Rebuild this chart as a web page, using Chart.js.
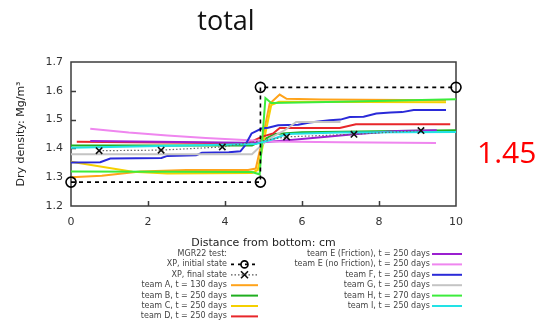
<!DOCTYPE html>
<html>
<head>
<meta charset="utf-8">
<script src="https://cdn.jsdelivr.net/npm/chart.js@4.4.1/dist/chart.umd.min.js"></script>
<style>
    html, body { margin: 0; padding: 0; background: #fff; }
    #wrap { position: relative; width: 553px; height: 325px; }
</style>
</head>
<body>
<div id="wrap"><canvas id="chart" width="553" height="325"></canvas></div>
<script>
// Dry density profiles, MGR22 test
// x = distance from bottom (cm), y = dry density (Mg/m3)
const xTicks = [0, 2, 4, 6, 8, 10];
const yTicks = [1.2, 1.3, 1.4, 1.5, 1.6, 1.7];

const xpInitX = [0, 4.92, 4.92, 10];
const xpInitY = [1.283, 1.283, 1.612, 1.612];

const xpFinalX = [0.73, 2.34, 3.93, 5.6, 7.35, 9.09];
const xpFinalY = [1.392, 1.394, 1.405, 1.440, 1.449, 1.462];

const teamAX = [0, 0.8, 1.8, 3.0, 4.6, 4.8, 5.0, 5.16, 5.42, 5.6, 6.5, 9.74];
const teamAY = [1.300, 1.305, 1.320, 1.325, 1.325, 1.330, 1.450, 1.555, 1.587, 1.572, 1.570, 1.567];

const teamBX = [0, 4.7, 5.0, 5.3, 6.0, 10];
const teamBY = [1.410, 1.410, 1.430, 1.450, 1.456, 1.463];

const teamCX = [0, 1.6, 2.5, 4.7, 4.85, 5.2, 5.4, 9.74];
const teamCY = [1.354, 1.319, 1.313, 1.315, 1.325, 1.550, 1.562, 1.560];

const teamDX = [0.15, 4.6, 4.95, 5.25, 5.42, 6.98, 7.4, 9.85];
const teamDY = [1.423, 1.418, 1.440, 1.452, 1.471, 1.471, 1.484, 1.484];

const teamEfX = [0.5, 4.5, 5.0, 5.42, 7.28, 8.45, 9.5];
const teamEfY = [1.426, 1.420, 1.422, 1.426, 1.448, 1.460, 1.463];

const teamEnX = [0.5, 1.5, 2.5, 3.5, 4.5, 5.2, 7.0, 9.48];
const teamEnY = [1.468, 1.455, 1.445, 1.436, 1.429, 1.424, 1.421, 1.419];

const teamFX = [0, 0.76, 1.02, 2.35, 2.5, 3.25, 3.4, 4.1, 4.4, 4.52, 4.69, 4.95, 5.12, 5.38, 5.9, 6.2, 6.72, 7.0, 7.24, 7.6, 7.93, 8.3, 8.6, 8.9, 9.74];
const teamFY = [1.351, 1.352, 1.365, 1.367, 1.374, 1.376, 1.385, 1.387, 1.390, 1.410, 1.452, 1.469, 1.472, 1.480, 1.482, 1.490, 1.498, 1.500, 1.509, 1.510, 1.521, 1.525, 1.526, 1.533, 1.533];

const teamGX = [0, 4.7, 4.9, 5.16, 5.55, 5.85, 7.0];
const teamGY = [1.380, 1.380, 1.405, 1.435, 1.463, 1.492, 1.492];

const teamHX = [0, 4.7, 4.9, 5.05, 5.2, 7.0, 10];
const teamHY = [1.320, 1.318, 1.310, 1.575, 1.558, 1.562, 1.571];

const teamIX = [0, 3.0, 4.8, 5.2, 5.6, 7.0, 10];
const teamIY = [1.402, 1.410, 1.415, 1.430, 1.450, 1.455, 1.457];

function pts(xs, ys) {
    return xs.map((x, i) => ({ x: x, y: ys[i] }));
}

const series = [
    { label: 'XP, initial state', xs: xpInitX, ys: xpInitY, color: '#000000', col: 0, kind: 'init' },
    { label: 'XP, final state', xs: xpFinalX, ys: xpFinalY, color: '#000000', col: 0, kind: 'final' },
    { label: 'team A, t = 130 days', xs: teamAX, ys: teamAY, color: '#ffa31a', col: 0 },
    { label: 'team B, t = 250 days', xs: teamBX, ys: teamBY, color: '#1fae1f', col: 0 },
    { label: 'team C, t = 250 days', xs: teamCX, ys: teamCY, color: '#f5d000', col: 0 },
    { label: 'team D, t = 250 days', xs: teamDX, ys: teamDY, color: '#e8262a', col: 0 },
    { label: 'team E (Friction), t = 250 days', xs: teamEfX, ys: teamEfY, color: '#9a1fd0', col: 1 },
    { label: 'team E (no Friction), t = 250 days', xs: teamEnX, ys: teamEnY, color: '#ef86ef', col: 1 },
    { label: 'team F, t = 250 days', xs: teamFX, ys: teamFY, color: '#2a2ad8', col: 1 },
    { label: 'team G, t = 250 days', xs: teamGX, ys: teamGY, color: '#c4c4c4', col: 1 },
    { label: 'team H, t = 270 days', xs: teamHX, ys: teamHY, color: '#3cec3c', col: 1 },
    { label: 'team I, t = 250 days', xs: teamIX, ys: teamIY, color: '#22e2e6', col: 1 }
];

const datasets = series.map((s, i) => {
    const ds = {
        label: s.label,
        data: pts(s.xs, s.ys),
        showLine: true,
        borderColor: s.color,
        backgroundColor: s.color,
        borderWidth: 2,
        pointRadius: 0,
        tension: 0,
        order: -i
    };
    if (s.kind === 'init') {
        ds.borderWidth = 1.6;
        ds.borderDash = [4, 4];
        ds.pointRadius = 5;
        ds.pointStyle = 'circle';
        ds.pointBorderWidth = 1.6;
        ds.pointBackgroundColor = 'rgba(0,0,0,0)';
        ds.clip = false;
        ds.order = -100;
    } else if (s.kind === 'final') {
        ds.borderWidth = 1.2;
        ds.borderColor = '#666666';
        ds.borderDash = [1.5, 2];
        ds.pointRadius = 4.5;
        ds.pointStyle = 'crossRot';
        ds.pointBorderWidth = 1.6;
        ds.pointBorderColor = '#111111';
        ds.clip = false;
        ds.order = -99;
    }
    return ds;
});

const textFont = '"DejaVu Sans", Verdana, sans-serif';

// Frame, inward ticks, headline, red annotation and the two-column legend
const decorPlugin = {
    id: 'decor',
    beforeDatasetsDraw(chart) {
        const ctx = chart.ctx;
        const a = chart.chartArea;
        const sx = chart.scales.x;
        const sy = chart.scales.y;
        ctx.save();
        ctx.strokeStyle = '#3c3c3c';
        ctx.lineWidth = 1.5;
        ctx.strokeRect(a.left, a.top, a.right - a.left, a.bottom - a.top);
        ctx.beginPath();
        yTicks.slice(1, -1).forEach(v => {
            const y = Math.round(sy.getPixelForValue(v)) + 0.5;
            ctx.moveTo(a.left, y);
            ctx.lineTo(a.left + 5, y);
        });
        xTicks.slice(1, -1).forEach(v => {
            const x = Math.round(sx.getPixelForValue(v)) + 0.5;
            ctx.moveTo(x, a.bottom);
            ctx.lineTo(x, a.bottom - 5);
        });
        ctx.stroke();
        ctx.restore();
    },
    afterDraw(chart) {
        const ctx = chart.ctx;
        ctx.save();

        // headline
        ctx.fillStyle = '#111111';
        ctx.font = '27px "Open Sans", sans-serif';
        ctx.textAlign = 'center';
        ctx.textBaseline = 'alphabetic';
        ctx.fillText('total', 226, 30);

        // red value on the right
        ctx.fillStyle = '#ff0000';
        ctx.font = '30px "Open Sans", sans-serif';
        ctx.textAlign = 'left';
        ctx.fillText('1.45', 477, 163);

        // legend
        const rowY = [254, 264.4, 274.8, 285.2, 295.6, 306, 316.4];
        const cols = [
            { textRight: 227, x1: 231, x2: 258 },
            { textRight: 430, x1: 432, x2: 462 }
        ];
        ctx.font = '8px ' + textFont;
        ctx.textAlign = 'right';
        ctx.textBaseline = 'middle';
        ctx.fillStyle = '#444444';
        ctx.fillText('MGR22 test:', cols[0].textRight, rowY[0]);

        const rowIdx = [1, 0];
        series.forEach(s => {
            const c = cols[s.col];
            const y = rowY[rowIdx[s.col]++];
            ctx.fillStyle = '#444444';
            ctx.fillText(s.label, c.textRight, y);
            ctx.save();
            ctx.beginPath();
            if (s.kind === 'init') {
                ctx.strokeStyle = '#000';
                ctx.lineWidth = 1.6;
                ctx.setLineDash([3, 4]);
                ctx.moveTo(c.x1, y);
                ctx.lineTo(c.x2, y);
                ctx.stroke();
                ctx.setLineDash([]);
                ctx.beginPath();
                ctx.arc((c.x1 + c.x2) / 2, y, 3.5, 0, Math.PI * 2);
                ctx.stroke();
            } else if (s.kind === 'final') {
                ctx.strokeStyle = '#555';
                ctx.lineWidth = 1.2;
                ctx.setLineDash([1.5, 2]);
                ctx.moveTo(c.x1, y);
                ctx.lineTo(c.x2, y);
                ctx.stroke();
                ctx.setLineDash([]);
                const cx = (c.x1 + c.x2) / 2;
                ctx.beginPath();
                ctx.strokeStyle = '#111';
                ctx.lineWidth = 1.6;
                ctx.moveTo(cx - 3.5, y - 3.5);
                ctx.lineTo(cx + 3.5, y + 3.5);
                ctx.moveTo(cx + 3.5, y - 3.5);
                ctx.lineTo(cx - 3.5, y + 3.5);
                ctx.stroke();
            } else {
                ctx.strokeStyle = s.color;
                ctx.lineWidth = 2;
                ctx.moveTo(c.x1, y);
                ctx.lineTo(c.x2, y);
                ctx.stroke();
            }
            ctx.restore();
        });
        ctx.restore();
    }
};

new Chart(document.getElementById('chart'), {
    type: 'scatter',
    data: { datasets: datasets },
    plugins: [decorPlugin],
    options: {
        responsive: false,
        animation: false,
        devicePixelRatio: 1,
        layout: { padding: { left: 0, top: 62, right: 97, bottom: 75 } },
        plugins: {
            legend: { display: false },
            tooltip: { enabled: false },
            title: { display: false }
        },
        scales: {
            x: {
                type: 'linear',
                min: 0,
                max: 10,
                afterFit: scale => { scale.height = 44; },
                afterBuildTicks: scale => { scale.ticks = xTicks.map(v => ({ value: v })); },
                grid: { display: false, drawTicks: false },
                border: { display: false },
                ticks: {
                    padding: 10,
                    color: '#333333',
                    font: { family: textFont, size: 11 }
                },
                title: {
                    display: true,
                    text: 'Distance from bottom: cm',
                    color: '#222222',
                    padding: { top: 0, bottom: 0 },
                    font: { family: textFont, size: 11 }
                }
            },
            y: {
                type: 'linear',
                min: 1.2,
                max: 1.7,
                afterFit: scale => { scale.width = 71; },
                afterBuildTicks: scale => { scale.ticks = yTicks.map(v => ({ value: v })); },
                grid: { display: false, drawTicks: false },
                border: { display: false },
                ticks: {
                    padding: 8,
                    color: '#333333',
                    font: { family: textFont, size: 11 },
                    callback: v => v.toFixed(1)
                },
                title: {
                    display: true,
                    text: 'Dry density: Mg/m\u00b3',
                    color: '#222222',
                    padding: { top: 15, bottom: 0 },
                    font: { family: textFont, size: 11 }
                }
            }
        }
    }
});
</script>
</body>
</html>
